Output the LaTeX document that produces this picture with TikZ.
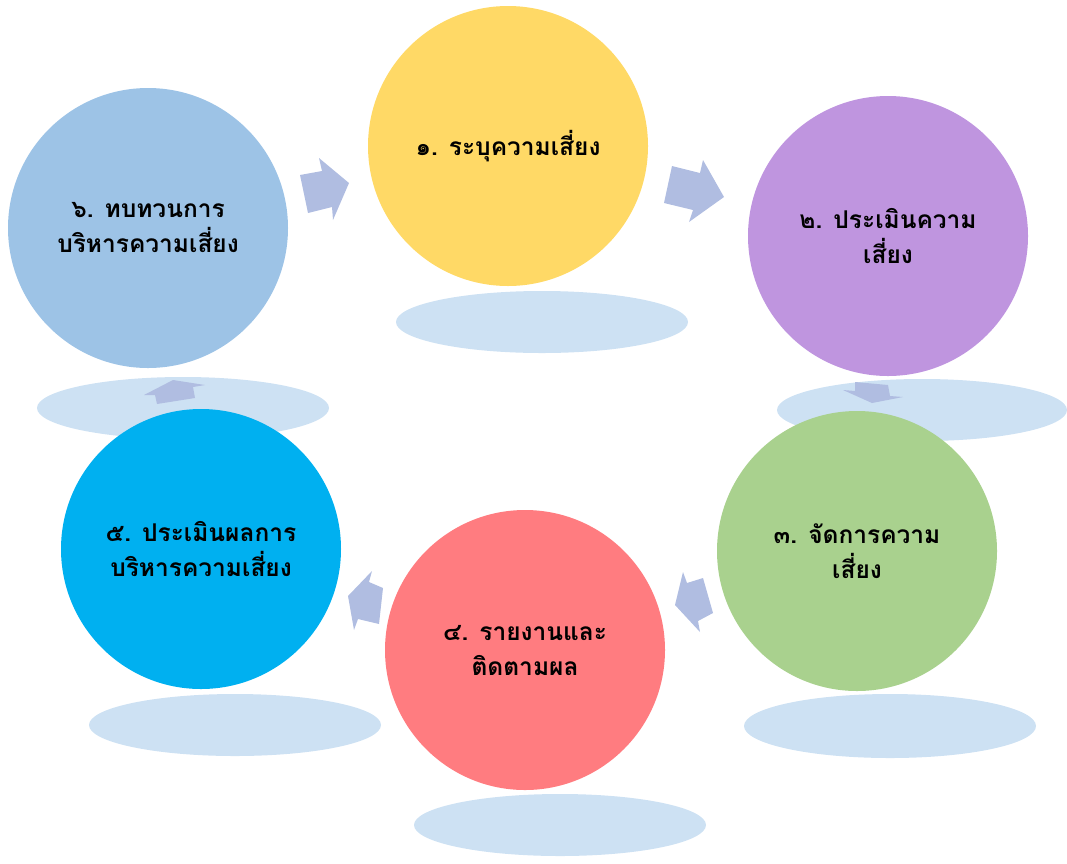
\documentclass[tikz,border=0pt]{standalone}
\usepackage{fontspec}
\newfontfamily\thaifont[Script=Thai]{Loma}
\definecolor{goldc}{RGB}{255,217,102}
\definecolor{lilacc}{RGB}{191,149,223}
\definecolor{greenc}{RGB}{169,209,142}
\definecolor{redc}{RGB}{255,124,128}
\definecolor{cyanc}{RGB}{0,176,240}
\definecolor{skyc}{RGB}{157,195,230}
\definecolor{shadowc}{RGB}{205,225,243}
\definecolor{arrowc}{RGB}{176,189,225}
\begin{document}
\begin{tikzpicture}[x=1pt,y=-1pt,
    disc/.style={circle,minimum size=280pt,inner sep=0pt,align=center,
      font=\thaifont\bfseries\fontsize{24.5}{35}\selectfont},
    shadow/.style={fill=shadowc},
    blockarrow/.style={fill=arrowc}]
    \useasboundingbox (0,0) rectangle (1067,863);
    \fill[shadow] (542,322) ellipse [x radius=146pt, y radius=31pt];
    \fill[shadow] (922,410) ellipse [x radius=145pt, y radius=31pt];
    \fill[shadow] (890,726) ellipse [x radius=146pt, y radius=32pt];
    \fill[shadow] (560,825) ellipse [x radius=146pt, y radius=31pt];
    \fill[shadow] (235,725) ellipse [x radius=146pt, y radius=31pt];
    \fill[shadow] (183,408) ellipse [x radius=146pt, y radius=31pt];
    \fill[blockarrow] (300,175) -- (322,171) -- (319,158) -- (349,183) -- (333,220) -- (332,207) -- (308,213) -- cycle;
    \fill[blockarrow] (672,166) -- (700,173) -- (703,160) -- (724,197) -- (689,222) -- (693,210) -- (664,203) -- cycle;
    \fill[blockarrow] (855,382) -- (888,385) -- (890,396) -- (903,397) -- (872,403) -- (843,390) -- (855,391) -- cycle;
    \fill[blockarrow] (683,572) -- (687,583) -- (703,578) -- (713,613) -- (698,621) -- (700,632) -- (675,605) -- cycle;
    \fill[blockarrow] (372,571) -- (369,582) -- (383,588) -- (379,624) -- (358,619) -- (354,630) -- (348,596) -- cycle;
    \fill[blockarrow] (173,380) -- (205,385) -- (193,387) -- (195,398) -- (157,404) -- (155,395) -- (144,395) -- cycle;
    \node[disc,fill=goldc] (c1) at (508,146) {๑. ระบุความเสี่ยง};
    \node[disc,fill=lilacc] (c2) at (888,236) {๒. ประเมินความ\\เสี่ยง};
    \node[disc,fill=greenc] (c3) at (857,551) {๓. จัดการความ\\เสี่ยง};
    \node[disc,fill=redc] (c4) at (525,650) {๔. รายงานและ\\ติดตามผล};
    \node[disc,fill=cyanc] (c5) at (201,549) {๕. ประเมินผลการ\\บริหารความเสี่ยง};
    \node[disc,fill=skyc] (c6) at (148,228) {๖. ทบทวนการ\\บริหารความเสี่ยง};
\end{tikzpicture}
\end{document}
